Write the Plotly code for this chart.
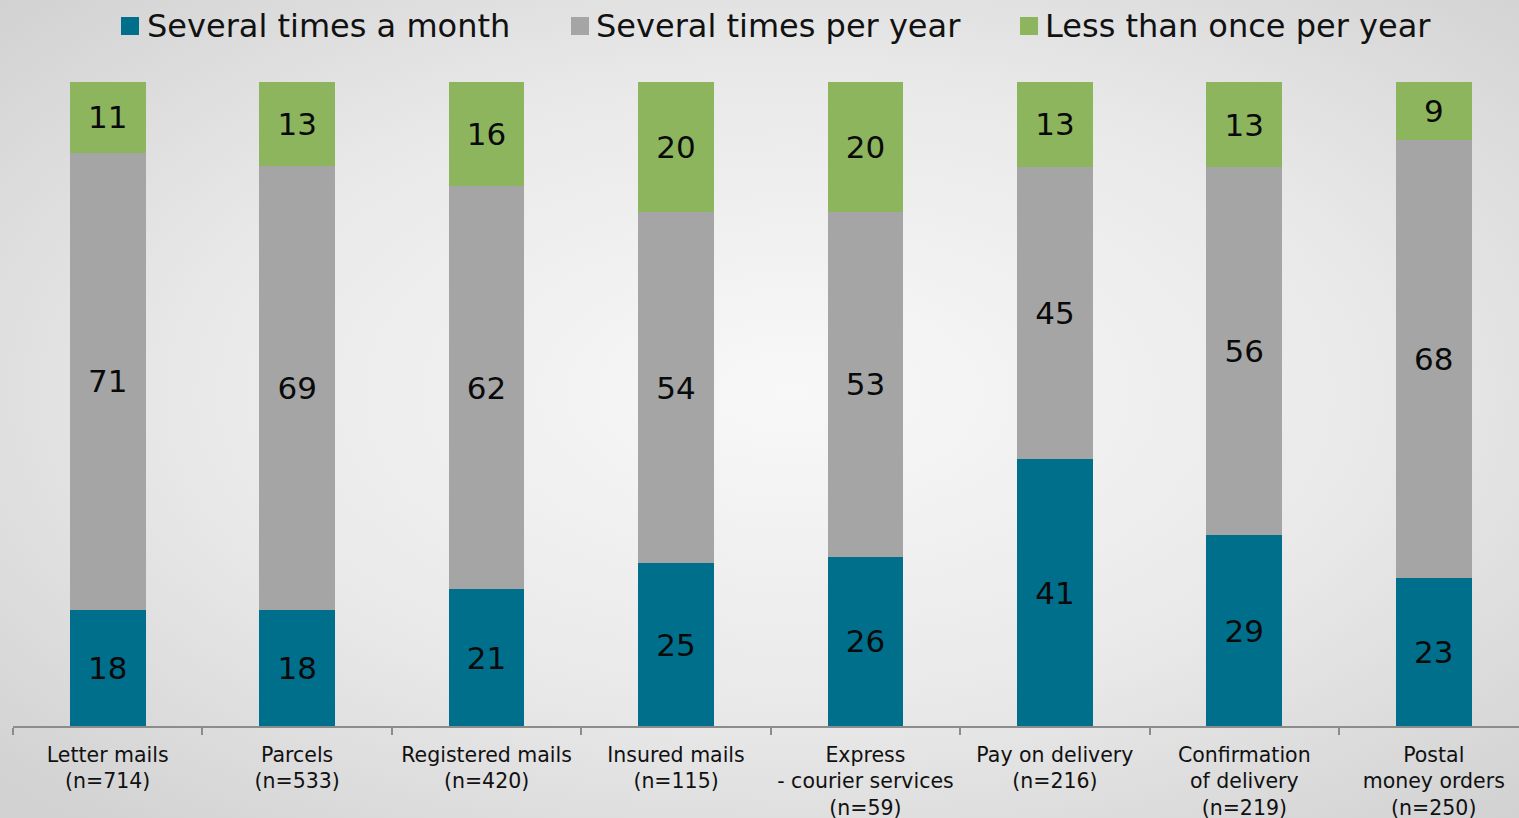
import base64
import plotly.graph_objects as go

# Postal service usage frequency by service type (percent of respondents)
categories = [
    "Letter mails<br>(n=714)",
    "Parcels<br>(n=533)",
    "Registered mails<br>(n=420)",
    "Insured mails<br>(n=115)",
    "Express<br>- courier services<br>(n=59)",
    "Pay on delivery<br>(n=216)",
    "Confirmation<br>of delivery<br>(n=219)",
    "Postal<br>money orders<br>(n=250)",
]
series_names = ["Several times a month", "Several times per year", "Less than once per year"]
monthly = [18, 18, 21, 25, 26, 41, 29, 23]
yearly = [71, 69, 62, 54, 53, 45, 56, 68]
rarely = [11, 13, 16, 20, 20, 13, 13, 9]

colors = ["#006F8C", "#A5A5A5", "#8DB55E"]
FONT = "DejaVu Sans"

W, H = 1519, 818
ML, MR, MT, MB = 13, 0, 82, 92
PW, PH = W - ML - MR, H - MT - MB

fig = go.Figure()
for name, vals, col in zip(series_names, [monthly, yearly, rarely], colors):
    fig.add_trace(go.Bar(
        x=categories, y=vals, name=name,
        marker=dict(color=col, line=dict(width=0)),
        text=[str(v) for v in vals],
        textposition="inside", insidetextanchor="middle", textangle=0,
        textfont=dict(family=FONT, size=31, color="#0a0a0a"),
        showlegend=False, hoverinfo="skip",
    ))

# Soft radial background across the whole canvas
svg = (
    f'<svg xmlns="http://www.w3.org/2000/svg" width="{W}" height="{H}">'
    '<defs><radialGradient id="g" cx="52%" cy="48%" r="70%">'
    '<stop offset="0" stop-color="#f8f8f8"/>'
    '<stop offset="0.55" stop-color="#e9e9e9"/>'
    '<stop offset="1" stop-color="#d2d2d2"/>'
    '</radialGradient></defs>'
    f'<rect width="{W}" height="{H}" fill="url(#g)"/></svg>'
)
bg_uri = "data:image/svg+xml;base64," + base64.b64encode(svg.encode()).decode()


def px_x(px):
    return (px - ML) / PW


def px_y(py):
    return 1 + (MT - py) / PH


images = [dict(
    source=bg_uri, xref="paper", yref="paper",
    x=px_x(0), y=px_y(0), sizex=W / PW, sizey=H / PH,
    xanchor="left", yanchor="top", sizing="stretch", layer="below",
)]

# Hand-placed legend row across the top
legend_squares = [121, 571, 1020]
legend_text_x = [145, 594, 1043]
shapes, annotations = [], []
for sx, tx, name, col in zip(legend_squares, legend_text_x, series_names, colors):
    shapes.append(dict(
        type="rect", xref="paper", yref="paper",
        x0=px_x(sx), x1=px_x(sx + 18), y0=px_y(35), y1=px_y(17),
        fillcolor=col, line=dict(width=0),
    ))
    annotations.append(dict(
        text=name, xref="paper", yref="paper", x=px_x(tx), y=px_y(26),
        xanchor="left", yanchor="middle", showarrow=False,
        font=dict(family=FONT, size=32, color="#111111"),
    ))

fig.update_layout(
    width=W, height=H,
    margin=dict(l=ML, r=MR, t=MT, b=MB, pad=0),
    barmode="stack", barnorm="percent", bargap=0.6,
    paper_bgcolor="#e2e2e2", plot_bgcolor="rgba(0,0,0,0)",
    font=dict(family=FONT, color="#111111"),
    images=images, shapes=shapes, annotations=annotations,
    xaxis=dict(
        range=[-0.5, 7.45], showgrid=False, zeroline=False,
        showline=True, linecolor="#8c8c8c", linewidth=2,
        ticks="outside", tickson="boundaries", ticklen=7, tickwidth=2,
        tickcolor="#8c8c8c", ticklabelstandoff=9, tickangle=0,
        automargin=False,
        tickfont=dict(family=FONT, size=20.5, color="#111111"),
        fixedrange=True,
    ),
    yaxis=dict(range=[0, 100], visible=False, fixedrange=True,
               automargin=False),
)

fig.write_html("out.html")
